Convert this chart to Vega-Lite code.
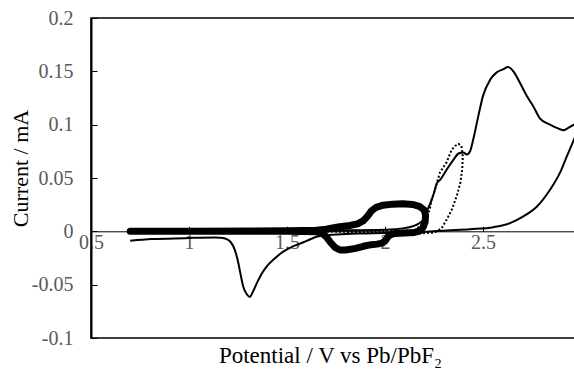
{
  "$schema": "https://vega.github.io/schema/vega-lite/v6.json",
  "autosize": "none",
  "width": 490,
  "height": 320,
  "padding": {"left": 91, "top": 18, "right": 0, "bottom": 39},
  "config": {
    "font": "Liberation Serif",
    "view": {"stroke": "black", "strokeWidth": 1.5},
    "axis": {
      "grid": false,
      "domainColor": "black",
      "tickColor": "black"
    }
  },
  "data": {"values": [
    {"s": "a", "i": 1, "V": 0.70, "I": 0.0005},
    {"s": "a", "i": 2, "V": 1.00, "I": 0.0005},
    {"s": "a", "i": 3, "V": 1.50, "I": 0.0008},
    {"s": "a", "i": 4, "V": 1.80, "I": 0.001},
    {"s": "a", "i": 5, "V": 2.00, "I": 0.0015},
    {"s": "a", "i": 6, "V": 2.10, "I": 0.003},
    {"s": "a", "i": 7, "V": 2.17, "I": 0.007},
    {"s": "a", "i": 8, "V": 2.20, "I": 0.012},
    {"s": "a", "i": 9, "V": 2.214, "I": 0.019},
    {"s": "a", "i": 10, "V": 2.235, "I": 0.028},
    {"s": "a", "i": 11, "V": 2.25, "I": 0.036},
    {"s": "a", "i": 12, "V": 2.264, "I": 0.045},
    {"s": "a", "i": 13, "V": 2.28, "I": 0.048},
    {"s": "a", "i": 14, "V": 2.315, "I": 0.058},
    {"s": "a", "i": 15, "V": 2.349, "I": 0.067},
    {"s": "a", "i": 16, "V": 2.375, "I": 0.073},
    {"s": "a", "i": 17, "V": 2.40, "I": 0.074},
    {"s": "a", "i": 18, "V": 2.417, "I": 0.072},
    {"s": "a", "i": 19, "V": 2.434, "I": 0.075},
    {"s": "a", "i": 20, "V": 2.45, "I": 0.086},
    {"s": "a", "i": 21, "V": 2.476, "I": 0.108},
    {"s": "a", "i": 22, "V": 2.50, "I": 0.127},
    {"s": "a", "i": 23, "V": 2.536, "I": 0.142},
    {"s": "a", "i": 24, "V": 2.57, "I": 0.149},
    {"s": "a", "i": 25, "V": 2.604, "I": 0.152},
    {"s": "a", "i": 26, "V": 2.626, "I": 0.154},
    {"s": "a", "i": 27, "V": 2.655, "I": 0.150},
    {"s": "a", "i": 28, "V": 2.689, "I": 0.139},
    {"s": "a", "i": 29, "V": 2.723, "I": 0.127},
    {"s": "a", "i": 30, "V": 2.757, "I": 0.117},
    {"s": "a", "i": 31, "V": 2.79, "I": 0.106},
    {"s": "a", "i": 32, "V": 2.842, "I": 0.100},
    {"s": "a", "i": 33, "V": 2.876, "I": 0.097},
    {"s": "a", "i": 34, "V": 2.91, "I": 0.0947},
    {"s": "a", "i": 35, "V": 2.935, "I": 0.097},
    {"s": "a", "i": 36, "V": 2.964, "I": 0.100},
    {"s": "a", "i": 37, "V": 3.00, "I": 0.104},
    {"s": "a", "i": 38, "V": 2.99, "I": 0.098},
    {"s": "a", "i": 39, "V": 2.964, "I": 0.086},
    {"s": "a", "i": 40, "V": 2.927, "I": 0.070},
    {"s": "a", "i": 41, "V": 2.893, "I": 0.055},
    {"s": "a", "i": 42, "V": 2.842, "I": 0.039},
    {"s": "a", "i": 43, "V": 2.774, "I": 0.023},
    {"s": "a", "i": 44, "V": 2.706, "I": 0.014},
    {"s": "a", "i": 45, "V": 2.638, "I": 0.0077},
    {"s": "a", "i": 46, "V": 2.553, "I": 0.0039},
    {"s": "a", "i": 47, "V": 2.434, "I": 0.002},
    {"s": "a", "i": 48, "V": 2.315, "I": 0.0008},
    {"s": "a", "i": 49, "V": 2.20, "I": -0.0005},
    {"s": "a", "i": 50, "V": 2.10, "I": -0.0012},
    {"s": "a", "i": 51, "V": 2.00, "I": -0.0015},
    {"s": "a", "i": 52, "V": 1.90, "I": -0.002},
    {"s": "a", "i": 53, "V": 1.80, "I": -0.0025},
    {"s": "a", "i": 54, "V": 1.70, "I": -0.0035},
    {"s": "a", "i": 55, "V": 1.65, "I": -0.005},
    {"s": "a", "i": 56, "V": 1.60, "I": -0.009},
    {"s": "a", "i": 57, "V": 1.566, "I": -0.0115},
    {"s": "a", "i": 58, "V": 1.52, "I": -0.015},
    {"s": "a", "i": 59, "V": 1.481, "I": -0.019},
    {"s": "a", "i": 60, "V": 1.44, "I": -0.025},
    {"s": "a", "i": 61, "V": 1.396, "I": -0.033},
    {"s": "a", "i": 62, "V": 1.37, "I": -0.040},
    {"s": "a", "i": 63, "V": 1.345, "I": -0.049},
    {"s": "a", "i": 64, "V": 1.325, "I": -0.057},
    {"s": "a", "i": 65, "V": 1.311, "I": -0.0615},
    {"s": "a", "i": 66, "V": 1.295, "I": -0.059},
    {"s": "a", "i": 67, "V": 1.277, "I": -0.052},
    {"s": "a", "i": 68, "V": 1.265, "I": -0.042},
    {"s": "a", "i": 69, "V": 1.252, "I": -0.030},
    {"s": "a", "i": 70, "V": 1.24, "I": -0.021},
    {"s": "a", "i": 71, "V": 1.226, "I": -0.014},
    {"s": "a", "i": 72, "V": 1.21, "I": -0.0095},
    {"s": "a", "i": 73, "V": 1.192, "I": -0.0073},
    {"s": "a", "i": 74, "V": 1.16, "I": -0.006},
    {"s": "a", "i": 75, "V": 1.133, "I": -0.0057},
    {"s": "a", "i": 76, "V": 0.98, "I": -0.0064},
    {"s": "a", "i": 77, "V": 0.81, "I": -0.0073},
    {"s": "a", "i": 78, "V": 0.70, "I": -0.0089},

    {"s": "b", "i": 1, "V": 0.70, "I": 0.0},
    {"s": "b", "i": 2, "V": 1.50, "I": 0.0003},
    {"s": "b", "i": 3, "V": 2.00, "I": 0.0005},
    {"s": "b", "i": 4, "V": 2.15, "I": 0.001},
    {"s": "b", "i": 5, "V": 2.20, "I": 0.008},
    {"s": "b", "i": 6, "V": 2.22, "I": 0.016},
    {"s": "b", "i": 7, "V": 2.23, "I": 0.022},
    {"s": "b", "i": 8, "V": 2.238, "I": 0.030},
    {"s": "b", "i": 9, "V": 2.255, "I": 0.039},
    {"s": "b", "i": 10, "V": 2.28, "I": 0.055},
    {"s": "b", "i": 11, "V": 2.315, "I": 0.065},
    {"s": "b", "i": 12, "V": 2.34, "I": 0.0765},
    {"s": "b", "i": 13, "V": 2.357, "I": 0.080},
    {"s": "b", "i": 14, "V": 2.375, "I": 0.082},
    {"s": "b", "i": 15, "V": 2.39, "I": 0.080},
    {"s": "b", "i": 16, "V": 2.397, "I": 0.070},
    {"s": "b", "i": 17, "V": 2.394, "I": 0.058},
    {"s": "b", "i": 18, "V": 2.385, "I": 0.046},
    {"s": "b", "i": 19, "V": 2.366, "I": 0.033},
    {"s": "b", "i": 20, "V": 2.34, "I": 0.020},
    {"s": "b", "i": 21, "V": 2.315, "I": 0.011},
    {"s": "b", "i": 22, "V": 2.289, "I": 0.003},
    {"s": "b", "i": 23, "V": 2.265, "I": 0.0},
    {"s": "b", "i": 24, "V": 2.247, "I": -0.0012},
    {"s": "b", "i": 25, "V": 2.196, "I": -0.0017},
    {"s": "b", "i": 26, "V": 2.10, "I": -0.0017},
    {"s": "b", "i": 27, "V": 2.00, "I": -0.0015},
    {"s": "b", "i": 28, "V": 1.90, "I": -0.001},
    {"s": "b", "i": 29, "V": 1.70, "I": 0.0},
    {"s": "b", "i": 30, "V": 0.70, "I": 0.0},

    {"s": "c", "i": 1, "V": 0.70, "I": 0.0},
    {"s": "c", "i": 2, "V": 1.00, "I": 0.0},
    {"s": "c", "i": 3, "V": 1.50, "I": 0.0005},
    {"s": "c", "i": 4, "V": 1.65, "I": 0.001},
    {"s": "c", "i": 5, "V": 1.70, "I": 0.002},
    {"s": "c", "i": 6, "V": 1.76, "I": 0.004},
    {"s": "c", "i": 7, "V": 1.82, "I": 0.0055},
    {"s": "c", "i": 8, "V": 1.86, "I": 0.007},
    {"s": "c", "i": 9, "V": 1.89, "I": 0.010},
    {"s": "c", "i": 10, "V": 1.91, "I": 0.014},
    {"s": "c", "i": 11, "V": 1.93, "I": 0.019},
    {"s": "c", "i": 12, "V": 1.955, "I": 0.0225},
    {"s": "c", "i": 13, "V": 1.99, "I": 0.0245},
    {"s": "c", "i": 14, "V": 2.04, "I": 0.0255},
    {"s": "c", "i": 15, "V": 2.09, "I": 0.0258},
    {"s": "c", "i": 16, "V": 2.14, "I": 0.0252},
    {"s": "c", "i": 17, "V": 2.175, "I": 0.0235},
    {"s": "c", "i": 18, "V": 2.20, "I": 0.020},
    {"s": "c", "i": 19, "V": 2.207, "I": 0.015},
    {"s": "c", "i": 20, "V": 2.205, "I": 0.009},
    {"s": "c", "i": 21, "V": 2.195, "I": 0.004},
    {"s": "c", "i": 22, "V": 2.18, "I": 0.0005},
    {"s": "c", "i": 23, "V": 2.15, "I": -0.001},
    {"s": "c", "i": 24, "V": 2.10, "I": -0.0015},
    {"s": "c", "i": 25, "V": 2.05, "I": -0.002},
    {"s": "c", "i": 26, "V": 2.03, "I": -0.003},
    {"s": "c", "i": 27, "V": 2.015, "I": -0.005},
    {"s": "c", "i": 28, "V": 2.00, "I": -0.009},
    {"s": "c", "i": 29, "V": 1.985, "I": -0.011},
    {"s": "c", "i": 30, "V": 1.96, "I": -0.012},
    {"s": "c", "i": 31, "V": 1.93, "I": -0.0125},
    {"s": "c", "i": 32, "V": 1.89, "I": -0.014},
    {"s": "c", "i": 33, "V": 1.85, "I": -0.016},
    {"s": "c", "i": 34, "V": 1.80, "I": -0.0175},
    {"s": "c", "i": 35, "V": 1.77, "I": -0.0175},
    {"s": "c", "i": 36, "V": 1.745, "I": -0.015},
    {"s": "c", "i": 37, "V": 1.72, "I": -0.010},
    {"s": "c", "i": 38, "V": 1.70, "I": -0.005},
    {"s": "c", "i": 39, "V": 1.68, "I": -0.002},
    {"s": "c", "i": 40, "V": 1.65, "I": -0.0005},
    {"s": "c", "i": 41, "V": 1.50, "I": 0.0},
    {"s": "c", "i": 42, "V": 1.00, "I": 0.0},
    {"s": "c", "i": 43, "V": 0.70, "I": 0.0}
  ]},
  "encoding": {
    "x": {
      "field": "V", "type": "quantitative",
      "scale": {"domain": [0.5, 3.0], "nice": false, "zero": false},
      "axis": {
        "values": [0.5, 1, 1.5, 2, 2.5],
        "labelExpr": "'' + round(datum.value*100)/100",
        "labelFont": "Liberation Serif",
        "labelFontSize": 20,
        "labelColor": "#595959",
        "offset": -106.7,
        "domainWidth": 1,
        "tickSize": -5,
        "tickWidth": 1,
        "labelPadding": 6,
        "labelFlush": false,
        "labelOverlap": false,
        "title": "Potential / V vs Pb/PbF₂",
        "titleFont": "Liberation Serif",
        "titleFontSize": 23,
        "titleFontWeight": "normal",
        "titleColor": "black",
        "titleX": 239,
        "titleY": 124,
        "titleAlign": "center",
        "titleBaseline": "middle"
      }
    },
    "y": {
      "field": "I", "type": "quantitative",
      "scale": {"domain": [-0.1, 0.2], "nice": false, "zero": false},
      "axis": {
        "values": [-0.1, -0.05, 0, 0.05, 0.1, 0.15, 0.2],
        "labelExpr": "'' + round(datum.value*100)/100",
        "labelFont": "Liberation Serif",
        "labelFontSize": 20,
        "labelColor": "#595959",
        "domainWidth": 2,
        "tickSize": -6,
        "tickWidth": 1,
        "labelPadding": 24,
        "labelOverlap": false,
        "title": "Current / mA",
        "titleFont": "Liberation Serif",
        "titleFontSize": 22,
        "titleFontWeight": "normal",
        "titleColor": "black",
        "titleX": -71,
        "titleY": 150,
        "titleAlign": "center",
        "titleBaseline": "middle",
        "titleAngle": -90
      }
    },
    "order": {"field": "i", "type": "quantitative"}
  },
  "layer": [
    {
      "transform": [{"filter": "datum.s === 'a'"}],
      "mark": {"type": "line", "color": "black", "strokeWidth": 2, "clip": true, "interpolate": "monotone"}
    },
    {
      "transform": [{"filter": "datum.s === 'b'"}],
      "mark": {"type": "line", "color": "black", "strokeWidth": 2, "strokeDash": [2, 2], "clip": true}
    },
    {
      "transform": [{"filter": "datum.s === 'c'"}],
      "mark": {"type": "line", "color": "black", "strokeWidth": 7, "strokeCap": "round", "strokeJoin": "round", "clip": true}
    }
  ]
}
